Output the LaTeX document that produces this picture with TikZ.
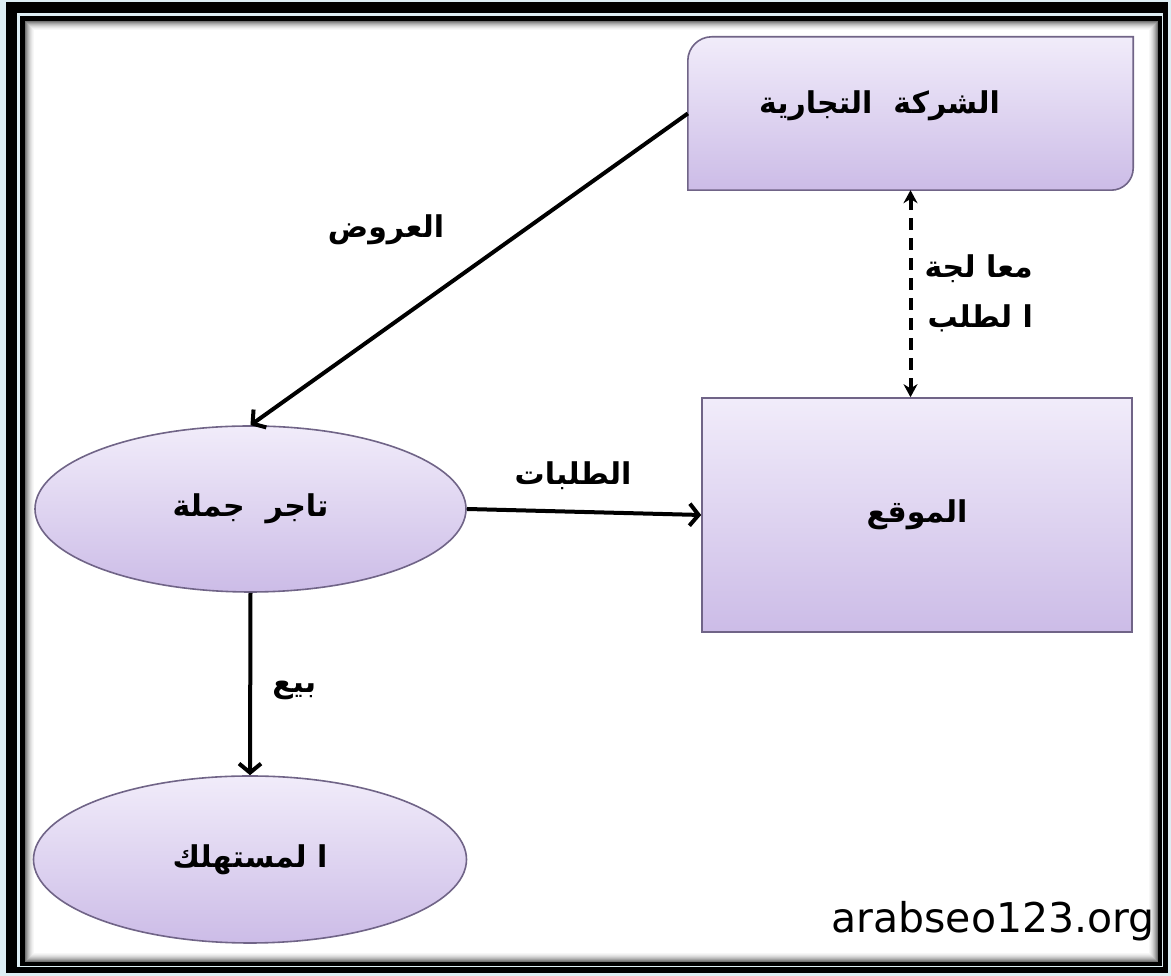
\documentclass[tikz,border=0pt]{standalone}
\usepackage{fontspec}
\usetikzlibrary{shapes}
\usetikzlibrary{positioning}
\usetikzlibrary{arrows.meta}
\TeXXeTstate=1
\newfontfamily\arabicfont[Script=Arabic]{DejaVu Sans}
\newfontfamily\webfont{DejaVu Sans}
\definecolor{framebg}{RGB}{221,238,244}
\definecolor{lavtop}{RGB}{241,236,250}
\definecolor{lavbot}{RGB}{204,188,231}
\definecolor{lavline}{RGB}{112,100,135}
\tikzset{
    myboxr/.style = {rectangle, draw=none, inner sep=0pt},
    mybox/.style = {rectangle, draw=lavline, line width=1.6pt, top color=lavtop, bottom color=lavbot, font=\arabicfont\bfseries\fontsize{30}{36}\selectfont, text=black},
    myell/.style = {ellipse, draw=lavline, line width=1.6pt, top color=lavtop, bottom color=lavbot, inner sep=0pt, font=\arabicfont\bfseries\fontsize{30}{36}\selectfont, text=black},
    mylabel/.style = {font=\arabicfont\bfseries\fontsize{30}{50}\selectfont, text=black, inner sep=0pt},
    edgen/.style = {line width=4pt, black, -{Straight Barb[length=9pt,width=22pt]}},
    edged/.style = {line width=4pt, black, dash pattern=on 12pt off 8pt, {Stealth[length=13pt,width=14pt]}-{Stealth[length=13pt,width=14pt]}}, % both ways
}

\begin{document}
\begin{tikzpicture}[x=1pt,y=1pt]
\useasboundingbox (0,0) rectangle (1171,976);
% frame
\fill[framebg] (0,0) rectangle (1171,976);
\fill[black] (6,3) rectangle (1168,974);
\fill[framebg] (17,9) rectangle (1163,963);
\fill[black] (20,10) rectangle (1162,960);
\fill[white] (25,14) rectangle (1158,955);
\foreach \i/\g in {0/55,1/45,2/36,3/28,4/21,5/15,6/10,7/6,8/3}
  \draw[line width=1pt, black!\g] (25.5+\i,14.5+\i) rectangle (1157.5-\i,954.5-\i);

\node[myboxr, minimum width=445pt, minimum height=153pt] at (910.5,862.5) (firm) {};
\path[mybox] ([yshift=-24pt]firm.north west) arc[start angle=180, end angle=90, radius=24pt]
  -- (firm.north east) -- ([yshift=22pt]firm.south east) arc[start angle=0, end angle=-90, radius=22pt]
  -- (firm.south west) -- cycle;
\node[mylabel] at ([xshift=-31pt,yshift=8pt]firm.center) (firmtext) {\beginR الشركة\ \ التجارية\endR};

\node[mybox, minimum width=430pt, minimum height=234pt] at (917,461) (site) {\beginR الموقع\endR};
\node[myell, minimum width=431pt, minimum height=166pt] at (250.5,467) (trader) {\beginR تاجر\ \ جملة\endR};
\node[myell, minimum width=433pt, minimum height=167pt] at (250,116.5) (buyer) {\beginR ا لمستهلك\endR};

\draw[edgen] (firm.west) -- (trader.north);
\node[mylabel] at (386,746) (offers) {\beginR العروض\endR};
\draw[edgen] (trader.east) -- (site.west) node[mylabel, midway, above=20pt, xshift=-11pt] (orders) {\beginR الطلبات\endR};
\draw[edgen] (trader.south) -- (buyer.north) node[mylabel, midway, right=20pt, yshift=-6pt] (sell) {\beginR بيع\endR};
\draw[edged] (firm.south) -- (firm.south |- site.north) node[mylabel, midway, right=12pt, align=right] (process) {\beginR معا لجة\endR\\\beginR ا لطلب\endR};

\node[font=\webfont\fontsize{41}{44}\selectfont, anchor=base east, inner sep=0pt] at (1155,43) (weburl) {arabseo123.org};

\end{tikzpicture}
\end{document}
